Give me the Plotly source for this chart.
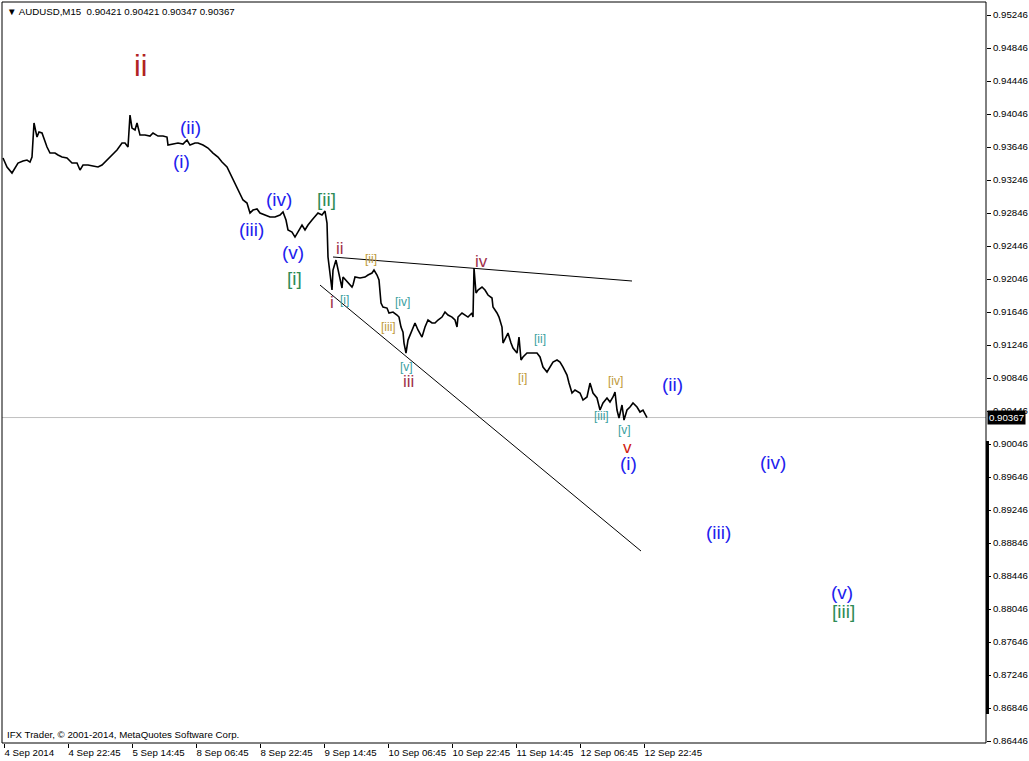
import plotly.graph_objects as go

# ---------------- data ----------------
bars = [1, 5, 10, 13, 16, 21, 25, 28, 30, 31, 32, 35, 37, 40, 43, 45, 48, 53, 56, 60,
        65, 70, 75, 78, 81, 86, 91, 96, 100, 105, 110, 115, 120, 123, 126, 128, 130, 133, 135, 138,
        143, 148, 151, 156, 161, 165, 166, 171, 176, 181, 185, 188, 193, 196, 201, 206, 211, 216, 220, 225,
        228, 231, 235, 238, 241, 245, 248, 251, 255, 258, 263, 268, 273, 278, 281, 284, 286, 290, 293, 296,
        300, 303, 306, 310, 313, 316, 320, 323, 325, 326, 330, 331, 334, 336, 338, 340, 341, 345, 350, 351,
        353, 358, 363, 366, 370, 372, 375, 377, 379, 381, 385, 387, 391, 395, 397, 399, 401, 402, 404, 406,
        410, 413, 416, 420, 423, 426, 430, 433, 436, 440, 443, 446, 450, 453, 455, 456, 460, 463, 466, 470,
        471, 472, 474, 476, 480, 483, 486, 490, 491, 495, 497, 500, 501, 504, 506, 509, 511, 515, 517, 519,
        521, 525, 530, 535, 538, 541, 545, 548, 551, 555, 558, 561, 565, 567, 570, 573, 578, 581, 585, 588,
        591, 595, 598, 601, 605, 608, 611, 613, 615, 617, 620, 622, 625, 628, 631, 635, 638, 641, 645]

closes = [0.93513, 0.93404, 0.93331, 0.93391, 0.93452, 0.93476, 0.93488, 0.93464, 0.93525, 0.93731,
          0.93937, 0.93767, 0.93828, 0.93816, 0.93707, 0.93646, 0.93573, 0.93573, 0.93549, 0.93525,
          0.93513, 0.93452, 0.93452, 0.93367, 0.93428, 0.93428, 0.93416, 0.93404, 0.93428, 0.93488,
          0.93549, 0.93610, 0.93694, 0.93694, 0.93646, 0.94034, 0.93876, 0.93852, 0.93937, 0.93791,
          0.93791, 0.93779, 0.93816, 0.93779, 0.93779, 0.93767, 0.93670, 0.93682, 0.93694, 0.93682,
          0.93731, 0.93670, 0.93694, 0.93694, 0.93670, 0.93634, 0.93573, 0.93525, 0.93464, 0.93404,
          0.93331, 0.93246, 0.93149, 0.93088, 0.93004, 0.92967, 0.92846, 0.92882, 0.92895, 0.92846,
          0.92822, 0.92798, 0.92798, 0.92822, 0.92858, 0.92761, 0.92640, 0.92616, 0.92555, 0.92616,
          0.92701, 0.92640, 0.92701, 0.92761, 0.92798, 0.92846, 0.92822, 0.92870, 0.92725, 0.92313,
          0.91913, 0.92155, 0.92276, 0.92155, 0.92034, 0.91937, 0.92070, 0.92010, 0.91949, 0.91973,
          0.92070, 0.92058, 0.92070, 0.92095, 0.92119, 0.92155, 0.92095, 0.92034, 0.91755, 0.91707,
          0.91694, 0.91634, 0.91646, 0.91610, 0.91585, 0.91464, 0.91403, 0.91270, 0.91149, 0.91306,
          0.91428, 0.91513, 0.91428, 0.91343, 0.91464, 0.91549, 0.91513, 0.91513, 0.91549, 0.91585,
          0.91646, 0.91610, 0.91585, 0.91549, 0.91464, 0.91585, 0.91634, 0.91610, 0.91585, 0.91634,
          0.91585, 0.92179, 0.91876, 0.91913, 0.91949, 0.91913, 0.91852, 0.91816, 0.91707, 0.91634,
          0.91585, 0.91464, 0.91270, 0.91343, 0.91391, 0.91270, 0.91210, 0.91149, 0.91343, 0.91064,
          0.91101, 0.91149, 0.91149, 0.91149, 0.91101, 0.90979, 0.90919, 0.90979, 0.91040, 0.91064,
          0.91040, 0.90979, 0.90882, 0.90785, 0.90664, 0.90701, 0.90664, 0.90579, 0.90616, 0.90785,
          0.90664, 0.90604, 0.90458, 0.90543, 0.90604, 0.90555, 0.90616, 0.90676, 0.90458, 0.90361,
          0.90519, 0.90337, 0.90458, 0.90495, 0.90543, 0.90495, 0.90434, 0.90458, 0.90367]

last_price = 0.90367
ohlc_header = "AUDUSD,M15  0.90421 0.90421 0.90347 0.90367"

time_labels = ["4 Sep 2014", "4 Sep 22:45", "5 Sep 14:45", "8 Sep 06:45", "8 Sep 22:45",
               "9 Sep 14:45", "10 Sep 06:45", "10 Sep 22:45", "11 Sep 14:45", "12 Sep 06:45",
               "12 Sep 22:45"]
time_label_bars = [2, 66, 130, 194, 258, 322, 386, 450, 514, 578, 642]

price_ticks = [0.86446, 0.86846, 0.87246, 0.87646, 0.88046, 0.88446, 0.88846, 0.89246, 0.89646,
               0.90046, 0.90446, 0.90846, 0.91246, 0.91646, 0.92046, 0.92446, 0.92846, 0.93246,
               0.93646, 0.94046, 0.94446, 0.94846, 0.95246]

# Elliott wave labels: text, bar, price, group
wave_text = ["ii", "(ii)", "(i)", "(iv)", "(iii)", "(v)", "[i]", "[ii]",
             "ii", "i", "iii", "iv", "v",
             "[i]", "[ii]", "[iii]", "[iv]", "[v]", "[i]", "[ii]", "[iii]", "[iv]", "[v]",
             "(ii)", "(i)", "(iv)", "(iii)", "(v)", "[iii]"]
wave_bar = [138, 188, 179, 277, 249, 291, 292, 324,
            338, 330, 406, 479, 625,
            342, 369, 386, 400, 404, 520, 538, 599, 613, 622,
            670, 626, 771, 716, 840, 841]
wave_price = [0.94640, 0.93888, 0.93476, 0.93016, 0.92652, 0.92373, 0.92058, 0.93016,
              0.92422, 0.91767, 0.90810, 0.92264, 0.90010,
              0.91792, 0.92288, 0.91464, 0.91767, 0.90979, 0.90846, 0.91319, 0.90385, 0.90810, 0.90216,
              0.90773, 0.89804, 0.89828, 0.88979, 0.88252, 0.88010]
wave_group = ["big", "minute", "minute", "minute", "minute", "minute", "minor", "minor",
              "sub", "sub", "sub", "sub", "subv",
              "tiny", "tiny2", "tiny2", "tiny", "tiny", "tiny2", "tiny", "tiny", "tiny2", "tiny",
              "minute", "minute", "minute", "minute", "minute", "minor"]

# trend lines (bar, price)
upper_line = [(331, 0.92313), (630, 0.92022)]
lower_line = [(318, 0.91973), (639, 0.88749)]

# ---------------- styles ----------------
styles = {
    "big": dict(color="#B22222", size=30),
    "minute": dict(color="#2222EE", size=19),
    "minor": dict(color="#2E8B57", size=19),
    "sub": dict(color="#A0304A", size=17),
    "subv": dict(color="#D02010", size=17),
    "tiny": dict(color="#3AA0A0", size=12),
    "tiny2": dict(color="#C09A3A", size=12),
}

FONT = "Liberation Sans, Arial, sans-serif"
FS = 9.7

fig = go.Figure()
fig.add_trace(go.Scatter(x=bars, y=closes, mode="lines",
                         line=dict(color="black", width=1.6), hoverinfo="skip",
                         showlegend=False))

annotations = []
for t, b, p, g in zip(wave_text, wave_bar, wave_price, wave_group):
    st = styles[g]
    annotations.append(dict(x=b, y=p, xref="x", yref="y", text=t, showarrow=False,
                            font=dict(family=FONT, size=st["size"], color=st["color"]),
                            xanchor="center", yanchor="middle"))

# header and copyright
annotations.append(dict(x=0, y=1, xref="paper", yref="paper", xanchor="left", yanchor="top",
                        xshift=3, yshift=-2, showarrow=False,
                        text="▼ " + ohlc_header,
                        font=dict(family=FONT, size=FS, color="black")))
annotations.append(dict(x=0, y=0, xref="paper", yref="paper", xanchor="left", yanchor="bottom",
                        xshift=3, yshift=1, showarrow=False,
                        text="IFX Trader, © 2001-2014, MetaQuotes Software Corp.",
                        font=dict(family=FONT, size=FS, color="black")))
# current price box
annotations.append(dict(x=1, y=last_price, xref="paper", yref="y", xanchor="left", yanchor="middle",
                        xshift=1, showarrow=False, text="%.5f" % last_price,
                        bgcolor="black", borderpad=1,
                        font=dict(family=FONT, size=FS, color="white")))

shapes = [
    dict(type="line", xref="paper", yref="y", x0=0, x1=1, y0=last_price, y1=last_price,
         line=dict(color="#C0C0C0", width=1), layer="below"),
    dict(type="line", xref="x", yref="y", x0=upper_line[0][0], y0=upper_line[0][1],
         x1=upper_line[1][0], y1=upper_line[1][1], line=dict(color="black", width=1)),
    dict(type="line", xref="x", yref="y", x0=lower_line[0][0], y0=lower_line[0][1],
         x1=lower_line[1][0], y1=lower_line[1][1], line=dict(color="black", width=1)),
    dict(type="rect", xref="paper", yref="paper", x0=0, x1=1, y0=0, y1=1,
         line=dict(color="black", width=1)),
    dict(type="line", xref="paper", yref="y", x0=1.0015, x1=1.0015, y0=0.86773, y1=0.90082,
         line=dict(color="black", width=3)),
]

fig.update_layout(
    width=1029, height=761,
    margin=dict(l=2, r=43, t=2, b=18),
    paper_bgcolor="white", plot_bgcolor="white",
    font=dict(family=FONT, size=FS, color="black"),
    annotations=annotations, shapes=shapes,
    showlegend=False,
    xaxis=dict(range=[0, 984], showgrid=False, zeroline=False, showline=False,
               tickmode="array", tickvals=time_label_bars, ticktext=time_labels,
               ticks="outside", ticklen=4, tickcolor="black", tickwidth=1,
               ticklabelposition="outside right", tickangle=0, automargin=False,
               tickfont=dict(family=FONT, size=FS, color="black")),
    yaxis=dict(range=[0.86422, 0.95404], side="right", showgrid=False, zeroline=False,
               showline=False, tickmode="array", tickvals=price_ticks,
               ticktext=["%.5f" % v for v in price_ticks], automargin=False,
               ticks="outside", ticklen=4, tickcolor="black", tickwidth=1,
               tickfont=dict(family=FONT, size=FS, color="black")),
)

fig.write_html("out.html", config={"displayModeBar": False},
               post_script="document.body.style.margin='0';document.body.style.overflow='hidden';")
